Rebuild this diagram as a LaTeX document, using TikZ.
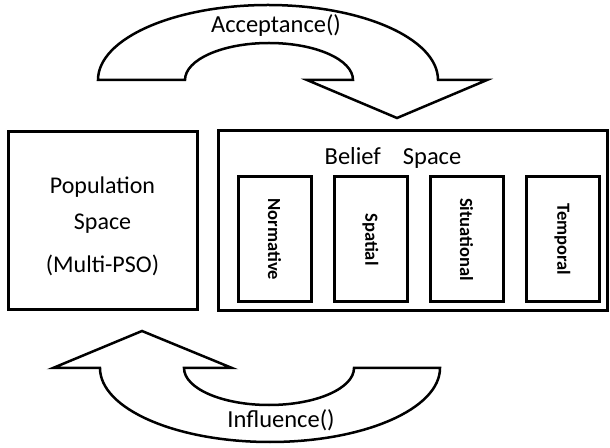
\documentclass[tikz,border=0pt]{standalone}
\usepackage{fontspec}
\setmainfont{Carlito}
\usetikzlibrary{positioning}
\tikzset{
    spacebox/.style ={rectangle, draw, line width=3pt, inner sep=0pt, align=center},
    kindbox/.style ={rectangle, draw, line width=3pt, minimum width=73pt, minimum height=125pt, inner sep=0pt, font=\fontsize{18.5}{20}\selectfont\bfseries},
    bigarrow/.style={draw, line width=2.5pt, line join=miter},
    el/.style = {inner sep=2pt, font=\fontsize{24.5}{28}\selectfont}
}

\begin{document}
\begin{tikzpicture}[x=1pt,y=1pt,node distance=20pt]
\useasboundingbox (0,0) rectangle (610,447);
\node[spacebox, minimum width=189pt, minimum height=178pt, font=\fontsize{24}{36}\selectfont](1) at (102.5,226){};
\node[align=center, font=\fontsize{24}{36}\selectfont](1t) at (102.5,221){Population\\Space\\[7pt](Multi-PSO)};
\node[spacebox, minimum width=389pt, minimum height=180pt](2) at (412.5,226){};
\node[el](3) at (393,289){Belief\hspace{22pt}Space};
\node[kindbox](4) at (274.5,207.5){\rotatebox{-90}{Normative}};
\node[kindbox](5)[right=of 4]{\rotatebox{-90}{Spatial}};
\node[kindbox](6)[right=of 5]{\rotatebox{-90}{Situational}};
\node[kindbox](7)[right=of 6]{\rotatebox{-90}{Temporal}};
% acceptance arrow
\draw[bigarrow] (98,367) arc[start angle=180,end angle=0,x radius=170,y radius=75]
  -- (487,367) -- (397,329) -- (307,367) -- (353,367)
  arc[start angle=0,end angle=180,x radius=84,y radius=37] -- cycle;
\node[el](8) at (276,421){Acceptance()};
% influence arrow
\draw[bigarrow] (100,79) -- (53,79) -- (142,116) -- (232,79) -- (184,79)
  arc[start angle=180,end angle=360,x radius=85,y radius=37] -- (440,79)
  arc[start angle=0,end angle=-180,x radius=170,y radius=74] -- cycle;
\node[el](9) at (281,27){Influence()};
\end{tikzpicture}
\end{document}
